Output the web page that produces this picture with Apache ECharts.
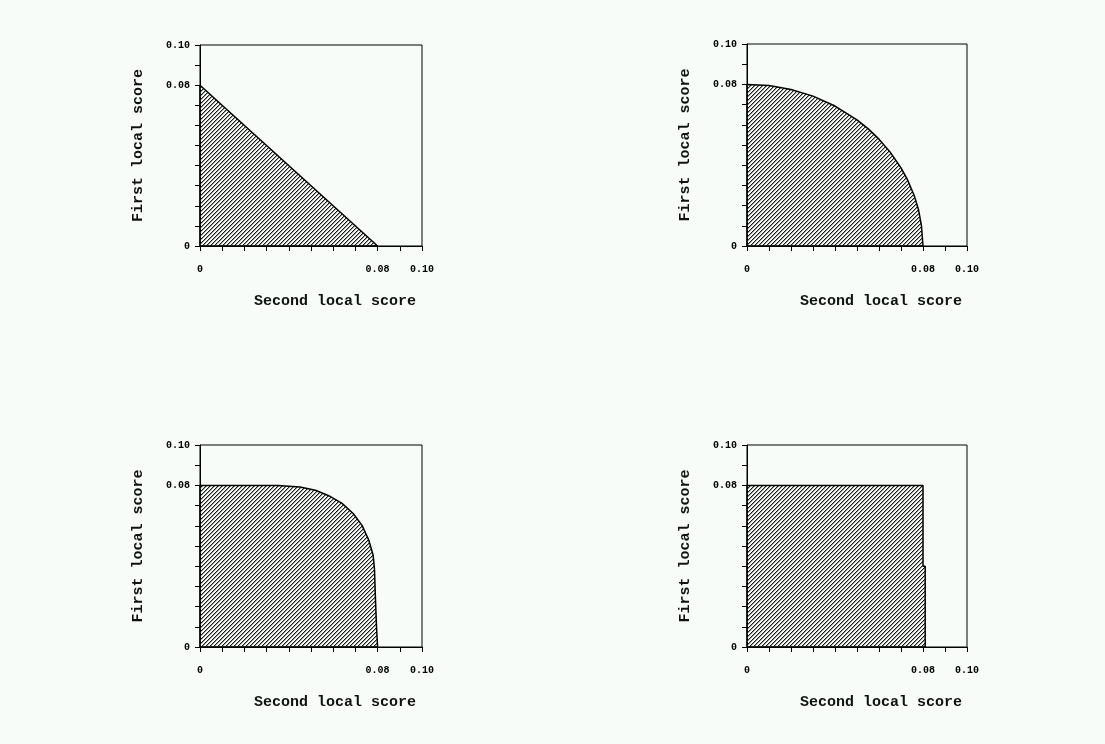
<!DOCTYPE html>
<html>
<head>
<meta charset="utf-8">
<script src="https://cdn.jsdelivr.net/npm/echarts@6/dist/echarts.min.js"></script>
<style>
  html, body { margin: 0; padding: 0; background: #f7fcf9; }
  #chart { width: 1105px; height: 744px; }
</style>
</head>
<body>
<div id="chart"></div>
<script>
// region boundaries: [second score, first score]
const triangle = [[0, 0], [0, 0.08], [0.08, 0], [0, 0]]
const circle = [[0, 0], [0, 0.08], [0.01, 0.0794], [0.02, 0.0775], [0.03, 0.0742], [0.04, 0.0693],
  [0.05, 0.0624], [0.055, 0.0581], [0.06, 0.0529], [0.065, 0.0466], [0.07, 0.0387], [0.073, 0.0327],
  [0.076, 0.025], [0.078, 0.0178], [0.0793, 0.01], [0.08, 0], [0, 0]]
const rounded = [[0, 0], [0, 0.08], [0.035, 0.08], [0.045, 0.0792], [0.052, 0.0776], [0.058, 0.0749],
  [0.064, 0.0711], [0.069, 0.0661], [0.073, 0.0602], [0.076, 0.053], [0.078, 0.0455], [0.0786, 0.0385],
  [0.079, 0.025], [0.0795, 0.01], [0.08, 0], [0, 0]]
const square = [[0, 0], [0, 0.08], [0.08, 0.08], [0.08, 0.04], [0.081, 0.04], [0.081, 0], [0, 0]]
const shapes = [triangle, circle, rounded, square]

const tickLabels = { '0': '0', '0.08': '0.08', '0.1': '0.10' }
const xName = 'Second local score'
const yName = 'First local score'

// panel boxes [left, top, width, height]
const boxes = [[200, 45, 222, 201], [747, 44, 220, 202], [200, 445, 222, 202], [747, 445, 220, 202]]

// hatch tile: dark diagonal with a soft grey edge
let tile = document.createElement('canvas')
tile.width = 4
tile.height = 4
let ctx = tile.getContext('2d')
for (let i = 0; i < 4; i++) {
    ctx.fillStyle = '#1a1a1a'
    ctx.fillRect(i, 3 - i, 1, 1)
    ctx.fillStyle = '#9a9a9a'
    ctx.fillRect(i, (4 - i) % 4, 1, 1)
}

const font = 'Liberation Mono'
function fmt(v) {
    for (let k in tickLabels) {
        if (Math.abs(v - Number(k)) < 1e-6) return tickLabels[k]
    }
    return ''
}

let grid = [], xAxis = [], yAxis = [], series = []
boxes.forEach((b, i) => {
    grid.push({
        left: b[0], top: b[1], width: b[2], height: b[3],
        show: true, borderColor: '#000', borderWidth: 1, backgroundColor: 'transparent'
    })
    xAxis.push({
        gridIndex: i, type: 'value', min: 0, max: 0.1, interval: 0.01,
        name: xName, nameLocation: 'middle', nameGap: 48,
        nameTextStyle: { fontFamily: font, fontSize: 15, fontWeight: 'bold', color: '#111', padding: [0, 0, 0, 48] },
        axisLine: { show: true, lineStyle: { color: '#000', width: 1 } },
        axisTick: { show: true, length: 5, lineStyle: { color: '#000' } },
        axisLabel: { formatter: fmt, margin: 18, fontFamily: font, fontSize: 10, fontWeight: 'bold', color: '#000', showMinLabel: true, showMaxLabel: true },
        splitLine: { show: false }
    })
    yAxis.push({
        gridIndex: i, type: 'value', min: 0, max: 0.1, interval: 0.01,
        name: yName, nameLocation: 'middle', nameGap: 54,
        nameTextStyle: { fontFamily: font, fontSize: 15, fontWeight: 'bold', color: '#111' },
        axisLine: { show: true, lineStyle: { color: '#000', width: 1 } },
        axisTick: { show: true, length: 5, lineStyle: { color: '#000' } },
        axisLabel: { formatter: fmt, margin: 10, fontFamily: font, fontSize: 10, fontWeight: 'bold', color: '#000', showMinLabel: true, showMaxLabel: true },
        splitLine: { show: false }
    })
    series.push({
        type: 'line', xAxisIndex: i, yAxisIndex: i,
        data: shapes[i], symbol: 'none', animation: false,
        lineStyle: { color: '#000', width: 1.5 },
        areaStyle: { color: { image: tile, repeat: 'repeat' }, opacity: 1 }
    })
})

let Mycharts = echarts.init(document.getElementById('chart'))
Mycharts.setOption({
    backgroundColor: '#f7fcf9',
    animation: false,
    grid: grid,
    xAxis: xAxis,
    yAxis: yAxis,
    series: series
})
</script>
</body>
</html>
